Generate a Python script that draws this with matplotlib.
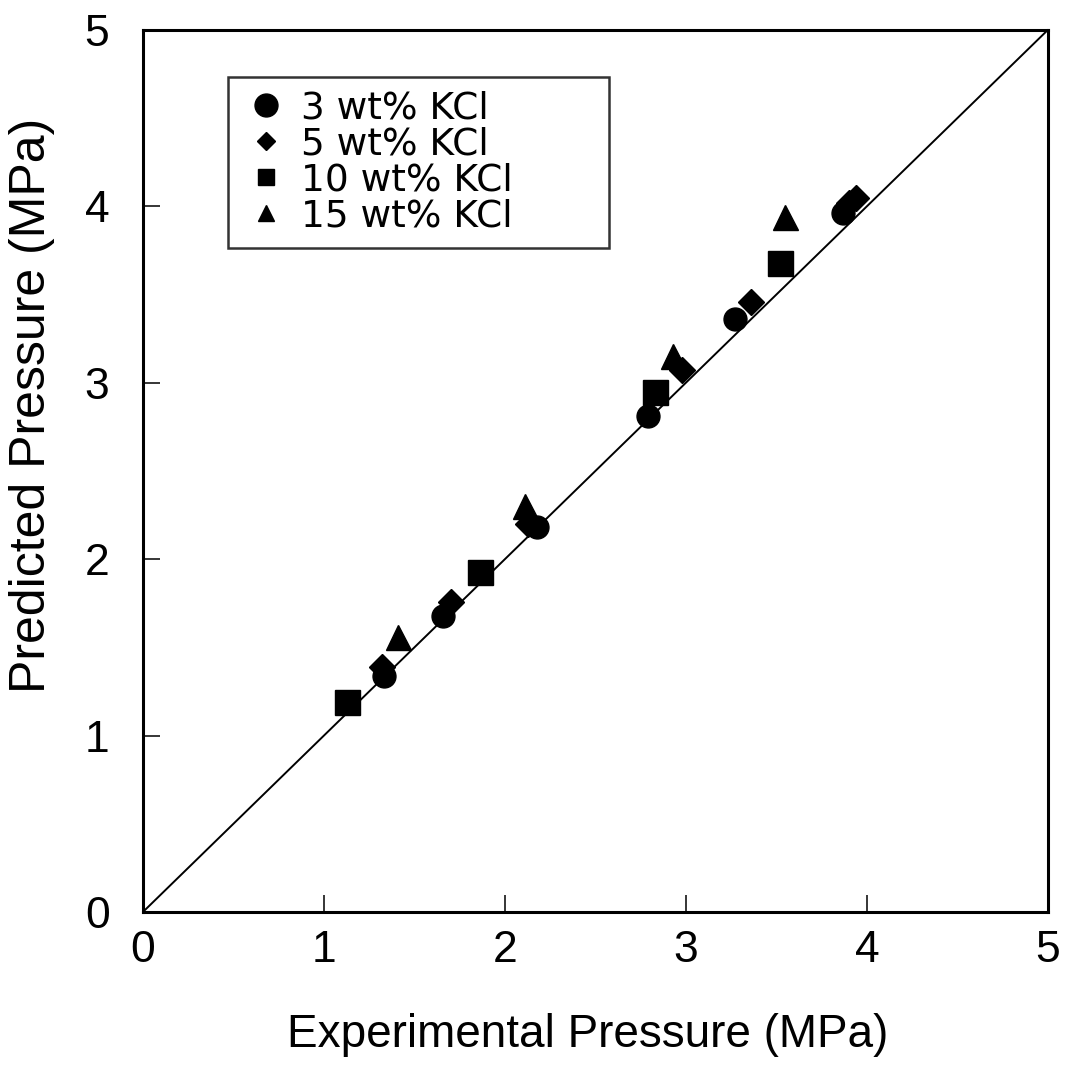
import matplotlib
matplotlib.use("Agg")
import matplotlib.pyplot as plt

plt.rcParams['font.family'] = ['Liberation Sans', 'DejaVu Sans']

# 3 wt% KCl
x3 = [1.33, 1.66, 2.18, 2.79, 3.27, 3.87]
y3 = [1.34, 1.68, 2.18, 2.81, 3.36, 3.96]
# 5 wt% KCl
x5 = [1.32, 1.70, 2.13, 2.98, 3.36, 3.90, 3.94]
y5 = [1.39, 1.76, 2.20, 3.07, 3.46, 4.02, 4.05]
# 10 wt% KCl
x10 = [1.13, 1.86, 2.83, 3.52]
y10 = [1.19, 1.93, 2.95, 3.68]
# 15 wt% KCl
x15 = [1.41, 2.11, 2.93, 3.55]
y15 = [1.56, 2.30, 3.15, 3.94]

labels = ["3 wt% KCl", "5 wt% KCl", "10 wt% KCl", "15 wt% KCl"]
xticks = [0, 1, 2, 3, 4, 5]
yticks = [0, 1, 2, 3, 4, 5]

fig = plt.figure(figsize=(10.66, 10.68), dpi=100)
ax = fig.add_axes([0.134, 0.146, 0.849, 0.826])

ax.plot([0, 5], [0, 5], color='black', lw=1.4, zorder=1)
ax.plot(x3, y3, 'o', color='black', ms=16.5, label=labels[0], zorder=3)
ax.plot(x5, y5, 'D', color='black', ms=13, label=labels[1], zorder=3)
ax.plot(x10, y10, 's', color='black', ms=18, label=labels[2], zorder=3)
ax.plot(x15, y15, '^', color='black', ms=18, label=labels[3], zorder=3)

ax.set_xlim(0, 5)
ax.set_ylim(0, 5)
ax.set_xticks(xticks)
ax.set_yticks(yticks)
ax.tick_params(direction='in', length=12, width=1.1, labelsize=32)
ax.tick_params(axis='x', pad=13)
ax.tick_params(axis='y', pad=24)
for s in ax.spines.values():
    s.set_linewidth(2.2)

ax.set_xlabel("Experimental Pressure (MPa)", fontsize=33, va='center')
ax.xaxis.set_label_coords(0.491, -0.139)
ax.set_ylabel("Predicted Pressure (MPa)", fontsize=36, va='center')
ax.yaxis.set_label_coords(-0.122, 0.574)

handles, labs = ax.get_legend_handles_labels()
leg = ax.legend(handles, labs, loc='upper left',
                bbox_to_anchor=(0.094, 0.0, 0.421, 0.947), mode='expand',
                borderaxespad=0.0, prop={'family': 'DejaVu Sans', 'size': 27},
                frameon=True, fancybox=False, edgecolor='black',
                handlelength=1.3, handletextpad=0.3, labelspacing=0.0,
                borderpad=0.36)
leg.get_frame().set_linewidth(1.8)
for h, m in zip(leg.legend_handles, [16.5, 9.5, 11.5, 11.5]):
    h.set_markersize(m)

fig.savefig("out.png", dpi=100)
